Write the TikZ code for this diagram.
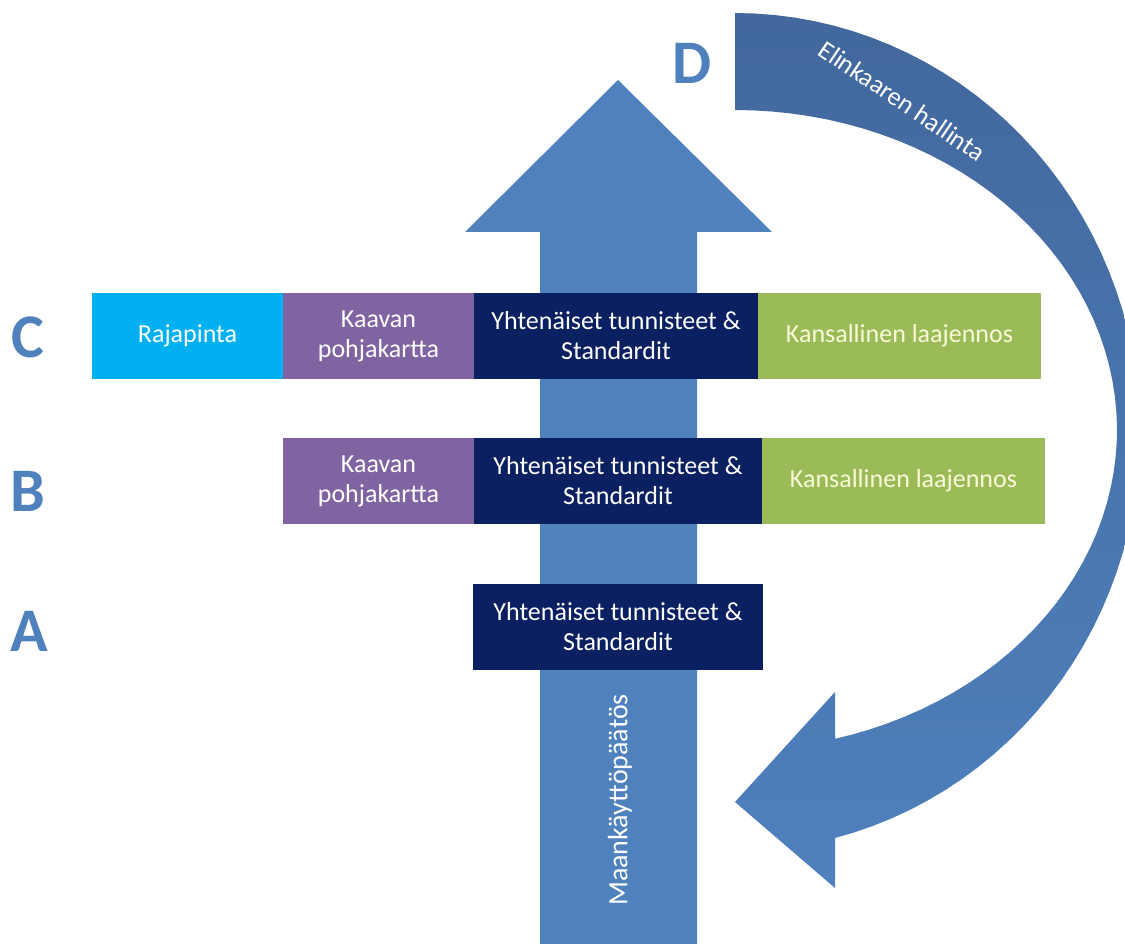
\documentclass[tikz,border=0pt]{standalone}
\usepackage{fontspec}
\setmainfont{Carlito}
\usepackage{xcolor}
\usetikzlibrary{positioning}

\definecolor{arrowblue}{HTML}{4F81BD}
\definecolor{banddark}{HTML}{42689D}
\definecolor{navy}{HTML}{0A2060}
\definecolor{plum}{HTML}{8064A2}
\definecolor{skyblue}{HTML}{00B0F0}
\definecolor{leafgreen}{HTML}{9BBB59}
\definecolor{paleyellow}{HTML}{FAFAD8}

\tikzset{
  layer/.style={minimum height=86pt, inner sep=0pt, outer sep=0pt, text=white,
    align=center, font=\fontsize{26}{30}\selectfont},
  letter/.style={text=arrowblue, inner sep=0pt, font=\fontsize{62}{62}\selectfont\bfseries}
}

\begin{document}
\begin{tikzpicture}[x=1pt, y=-1pt]
\useasboundingbox (0,0) rectangle (1125,944);
\clip (0,0) rectangle (1125,944);

% main arrow
\fill[arrowblue] (540,944) -- (540,232) -- (465,232) -- (618,80) -- (772,232) -- (697,232) -- (697,944) -- cycle;

% curved arrow: outer and inner edges are elliptic arcs, partly off the right edge
\shade[top color=banddark, middle color=banddark!55!arrowblue, bottom color=arrowblue]
  plot[domain=-90:75.7, samples=60] ({735+405*cos(\x)}, {432+419*sin(\x)})
  -- (835,888) -- (735,802) -- (835,692)
  -- plot[domain=-74.8:90, samples=60] ({735+382*cos(-\x)}, {430+320*sin(-\x)})
  -- cycle;

\node[rotate=-34, text=white, font=\fontsize{26}{30}\selectfont] (life) at (902,101) {Elinkaaren hallinta};

\node[rotate=90, text=white, font=\fontsize{28}{30}\selectfont] (decision) at (620,800) {Maankäyttöpäätös};

% level C
\node[layer, fill=navy, minimum width=284pt] (c-std) at (616,336) {Yhtenäiset tunnisteet \&\\Standardit};
\node[layer, fill=plum, minimum width=191pt, left=0pt of c-std] (c-base) {Kaavan\\pohjakartta};
\node[layer, fill=skyblue, minimum width=191pt, left=0pt of c-base] (c-api) {Rajapinta};
\node[layer, fill=leafgreen, minimum width=283pt, right=0pt of c-std, text=paleyellow] (c-nat) {Kansallinen laajennos};

% level B
\node[layer, fill=navy, minimum width=288pt] (b-std) at (618,481) {Yhtenäiset tunnisteet \&\\Standardit};
\node[layer, fill=plum, minimum width=191pt, left=0pt of b-std] (b-base) {Kaavan\\pohjakartta};
\node[layer, fill=leafgreen, minimum width=283pt, right=0pt of b-std, text=paleyellow] (b-nat) {Kansallinen laajennos};

% level A
\node[layer, fill=navy, minimum width=290pt] (a-std) at (618,627) {Yhtenäiset tunnisteet \&\\Standardit};

\node[letter] (C) at (28,337) {C};
\node[letter] (B) at (28,491) {B};
\node[letter] (A) at (29,631) {A};
\node[letter] (D) at (692,63) {D};
\end{tikzpicture}
\end{document}
